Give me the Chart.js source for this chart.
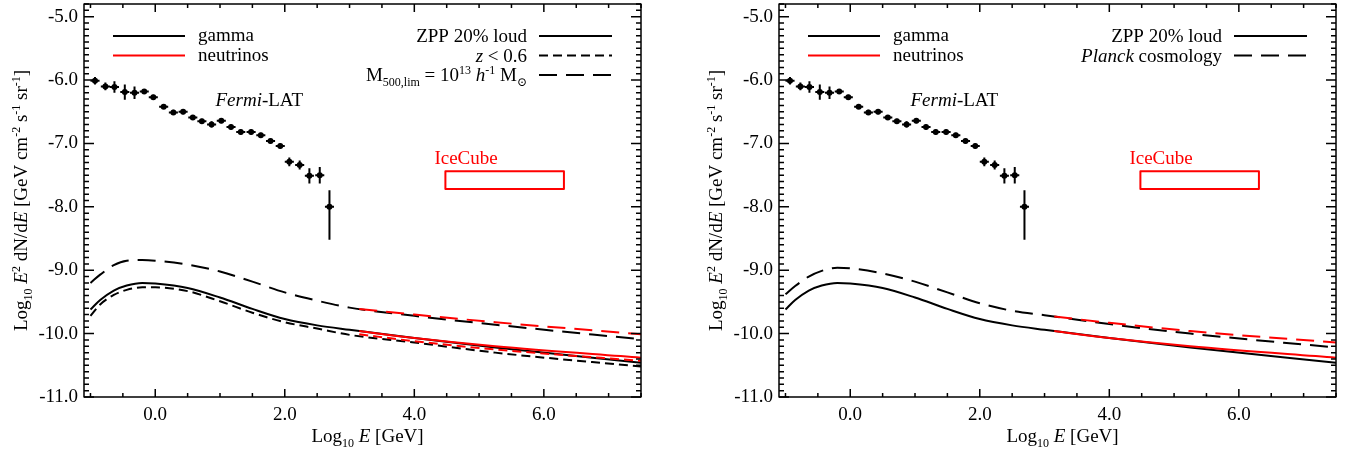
<!DOCTYPE html>
<html>
<head>
<meta charset="utf-8">
<script src="https://cdn.jsdelivr.net/npm/chart.js@4.4.0/dist/chart.umd.min.js"></script>
<style>
  body { margin: 0; background: #fff; }
  #wrap { position: relative; width: 1352px; height: 452px; }
  canvas { position: absolute; top: 0; }
</style>
</head>
<body>
<div id="wrap">
  <canvas id="left" width="676" height="452" style="left:0"></canvas>
  <canvas id="right" width="676" height="452" style="left:676px"></canvas>
</div>
<script>
// axis ticks
var xTicks = [0, 2, 4, 6];
var yTicks = [-11, -10, -9, -8, -7, -6, -5];

// Fermi-LAT points (log10 E, log10 E^2 dN/dE) with error bars
var fermiX = [-0.93, -0.77, -0.63, -0.47, -0.32, -0.17, -0.03, 0.13, 0.28, 0.43, 0.58, 0.72, 0.87,
              1.02, 1.17, 1.32, 1.48, 1.63, 1.78, 1.93, 2.07, 2.23, 2.38, 2.54, 2.69];
var fermiY = [-6.01, -6.10, -6.11, -6.19, -6.20, -6.18, -6.27, -6.42, -6.51, -6.50, -6.59, -6.65, -6.70,
              -6.64, -6.74, -6.82, -6.82, -6.87, -6.96, -7.04, -7.29, -7.34, -7.51, -7.50, -8.00];
var fermiErrUp = [0.06, 0.06, 0.09, 0.12, 0.10, 0.04, 0.04, 0.03, 0.04, 0.04, 0.04, 0.04, 0.05,
                  0.04, 0.04, 0.04, 0.04, 0.04, 0.04, 0.04, 0.07, 0.07, 0.12, 0.13, 0.26];
var fermiErrDn = [0.06, 0.06, 0.09, 0.12, 0.10, 0.04, 0.04, 0.03, 0.04, 0.04, 0.04, 0.04, 0.05,
                  0.04, 0.04, 0.04, 0.04, 0.04, 0.04, 0.04, 0.07, 0.07, 0.12, 0.13, 0.52];
var fermiErrX = 0.07;

// gamma-ray curves
var gammaX      = [-1.0, -0.85, -0.64, -0.44, -0.2, 0.0, 0.5, 1.0, 1.5, 2.0, 2.5, 3.0, 4.0, 5.25, 7.5];
var zppGamma    = [-9.62, -9.47, -9.32, -9.24, -9.20, -9.21, -9.28, -9.43, -9.61, -9.77, -9.87, -9.94, -10.07, -10.22, -10.46];
var z06Gamma    = [-9.72, -9.54, -9.39, -9.31, -9.27, -9.27, -9.33, -9.49, -9.67, -9.82, -9.92, -10.02, -10.14, -10.30, -10.52];
var m500Gamma   = [-9.20, -9.07, -8.92, -8.85, -8.84, -8.85, -8.91, -9.02, -9.18, -9.35, -9.48, -9.59, -9.72, -9.86, -10.09];
var planckGamma = [-9.38, -9.25, -9.10, -9.01, -8.96, -8.97, -9.05, -9.18, -9.35, -9.52, -9.64, -9.71, -9.85, -10.00, -10.22];

// neutrino curves
var nuX      = [3.15, 4.0, 5.25, 7.5];
var zppNu    = [-9.96, -10.07, -10.20, -10.38];
var z06Nu    = [-10.01, -10.12, -10.25, -10.43];
var m500Nu   = [-9.61, -9.70, -9.82, -10.01];
var planckNu = [-9.73, -9.83, -9.96, -10.14];

// IceCube box
var iceCubeX = [4.48, 6.31];
var iceCubeY = [-7.44, -7.72];

var FONT = '"Liberation Serif", "DejaVu Serif", serif';
var LONG = [18, 9];
var SHORT = [9, 5];

function pts(xs, ys) {
  return xs.map(function (x, i) { return { x: x, y: ys[i] }; });
}

function curve(xs, ys, color, dash) {
  return {
    data: pts(xs, ys),
    showLine: true,
    borderColor: color,
    borderWidth: 2,
    borderDash: dash,
    pointRadius: 0,
    cubicInterpolationMode: 'monotone',
    order: color === '#000' ? 2 : 1
  };
}

function fontFor(f) {
  var small = f.indexOf('p') >= 0 || f.indexOf('b') >= 0;
  return (f.indexOf('i') >= 0 ? 'italic ' : '') + (small ? 12 : 19) + 'px ' + FONT;
}

function drawRich(ctx, segs, x, y, align) {
  var w = 0;
  segs.forEach(function (s) { ctx.font = fontFor(s[1]); w += ctx.measureText(s[0]).width; });
  var cx = align === 'right' ? x - w : (align === 'center' ? x - w / 2 : x);
  ctx.textAlign = 'left';
  ctx.textBaseline = 'alphabetic';
  segs.forEach(function (s) {
    ctx.font = fontFor(s[1]);
    var dy = s[1].indexOf('p') >= 0 ? -7 : (s[1].indexOf('b') >= 0 ? 5 : 0);
    ctx.fillText(s[0], cx, y + dy);
    cx += ctx.measureText(s[0]).width;
  });
}

var yTitle = [['Log', ''], ['10', 'b'], [' ', ''], ['E', 'i'], ['2', 'p'], [' dN/d', ''], ['E', 'i'],
              [' [GeV cm', ''], ['-2', 'p'], [' s', ''], ['-1', 'p'], [' sr', ''], ['-1', 'p'], [']', '']];
var xTitle = [['Log', ''], ['10', 'b'], [' ', ''], ['E', 'i'], [' [GeV]', '']];

function makeDecor(models) {
  return {
    id: 'decor',
    afterDraw: function (chart) {
      var ctx = chart.ctx, a = chart.chartArea, xs = chart.scales.x, ys = chart.scales.y;
      ctx.save();

      // Fermi error bars
      ctx.strokeStyle = '#000';
      ctx.lineWidth = 2;
      ctx.beginPath();
      for (var i = 0; i < fermiX.length; i++) {
        var px = xs.getPixelForValue(fermiX[i]);
        var py = ys.getPixelForValue(fermiY[i]);
        ctx.moveTo(px, ys.getPixelForValue(fermiY[i] + fermiErrUp[i]));
        ctx.lineTo(px, ys.getPixelForValue(fermiY[i] - fermiErrDn[i]));
        ctx.moveTo(xs.getPixelForValue(fermiX[i] - fermiErrX), py);
        ctx.lineTo(xs.getPixelForValue(fermiX[i] + fermiErrX), py);
      }
      ctx.stroke();

      // IceCube box
      ctx.strokeStyle = '#f00';
      ctx.lineJoin = 'round';
      var bx0 = xs.getPixelForValue(iceCubeX[0]), bx1 = xs.getPixelForValue(iceCubeX[1]);
      var by0 = ys.getPixelForValue(iceCubeY[0]), by1 = ys.getPixelForValue(iceCubeY[1]);
      ctx.strokeRect(bx0, by0, bx1 - bx0, by1 - by0);
      ctx.fillStyle = '#f00';
      drawRich(ctx, [['IceCube', '']], xs.getPixelForValue(4.31), ys.getPixelForValue(-7.32), 'left');

      ctx.fillStyle = '#000';
      drawRich(ctx, [['Fermi', 'i'], ['-LAT', '']], xs.getPixelForValue(0.93), ys.getPixelForValue(-6.41), 'left');

      // frame and inward ticks on four sides
      ctx.strokeStyle = '#000';
      ctx.lineWidth = 1.5;
      ctx.strokeRect(a.left, a.top, a.right - a.left, a.bottom - a.top);
      ctx.beginPath();
      for (var k = -2; k <= 15; k++) {
        var v = k / 2;
        if (v < xs.min || v > xs.max) continue;
        var len = xTicks.indexOf(v) >= 0 ? 8 : 4;
        var x = xs.getPixelForValue(v);
        ctx.moveTo(x, a.bottom); ctx.lineTo(x, a.bottom - len);
        ctx.moveTo(x, a.top); ctx.lineTo(x, a.top + len);
      }
      for (var m = -110; m <= -48; m++) {
        var yv = m / 10;
        var ylen = m % 10 === 0 ? 10 : 5;
        var y = ys.getPixelForValue(yv);
        ctx.moveTo(a.left, y); ctx.lineTo(a.left + ylen, y);
        ctx.moveTo(a.right, y); ctx.lineTo(a.right - ylen, y);
      }
      ctx.stroke();

      // legend: particle colours
      ctx.lineWidth = 2;
      [['gamma', '#000'], ['neutrinos', '#f00']].forEach(function (r, j) {
        var ly = a.top + 32 + j * 19.5;
        ctx.strokeStyle = r[1];
        ctx.setLineDash([]);
        ctx.beginPath(); ctx.moveTo(a.left + 29, ly); ctx.lineTo(a.left + 101, ly); ctx.stroke();
        ctx.fillStyle = '#000';
        drawRich(ctx, [[r[0], '']], a.left + 114, ly + 5, 'left');
      });

      // legend: models / line styles
      models.forEach(function (r, j) {
        var ly = a.top + 32 + j * 19.5;
        ctx.strokeStyle = '#000';
        ctx.setLineDash(r.dash);
        ctx.beginPath(); ctx.moveTo(a.right - 102, ly); ctx.lineTo(a.right - 29, ly); ctx.stroke();
        ctx.setLineDash([]);
        drawRich(ctx, r.segs, a.right - 114, ly + 6, 'right');
      });

      // axis titles
      drawRich(ctx, xTitle, (a.left + a.right) / 2 + 5, 442, 'center');
      ctx.translate(a.left - 57, (a.top + a.bottom) / 2);
      ctx.rotate(-Math.PI / 2);
      drawRich(ctx, yTitle, 0, 0, 'center');

      ctx.restore();
    }
  };
}

function makeChart(id, yWidth, padRight, datasets, models) {
  return new Chart(document.getElementById(id), {
    type: 'scatter',
    data: { datasets: datasets },
    options: {
      responsive: false,
      animation: false,
      events: [],
      layout: { padding: { top: 1, right: padRight, bottom: 0, left: 0 } },
      plugins: { legend: { display: false }, tooltip: { enabled: false } },
      scales: {
        x: {
          type: 'linear', min: -1.1, max: 7.5,
          grid: { display: false, drawTicks: false }, border: { display: false },
          afterBuildTicks: function (s) { s.ticks = xTicks.map(function (v) { return { value: v }; }); },
          afterFit: function (s) { s.height = 55; s.paddingLeft = 0; s.paddingRight = 0; },
          ticks: { color: '#000', padding: 7, font: { family: FONT, size: 19 },
                   callback: function (v) { return v.toFixed(1); } }
        },
        y: {
          type: 'linear', min: -11.0, max: -4.8,
          grid: { display: false, drawTicks: false }, border: { display: false },
          afterBuildTicks: function (s) { s.ticks = yTicks.map(function (v) { return { value: v }; }); },
          afterFit: function (s) { s.width = yWidth; s.paddingTop = 0; s.paddingBottom = 0; },
          ticks: { color: '#000', padding: 6, font: { family: FONT, size: 19 },
                   callback: function (v) { return v.toFixed(1); } }
        }
      }
    },
    plugins: [makeDecor(models)]
  });
}

var fermiSet = {
  data: pts(fermiX, fermiY),
  pointRadius: 3,
  pointBackgroundColor: '#000',
  pointBorderWidth: 0,
  order: 0
};

var m500Label = [['M', ''], ['500,lim', 'b'], [' = 10', ''], ['13', 'p'], [' ', ''], ['h', 'i'],
                 ['-1', 'p'], [' M', ''], ['\u2299', 'b']];

makeChart('left', 84, 35, [
  fermiSet,
  curve(gammaX, zppGamma, '#000', []),
  curve(gammaX, z06Gamma, '#000', SHORT),
  curve(gammaX, m500Gamma, '#000', LONG),
  curve(nuX, zppNu, '#f00', []),
  curve(nuX, z06Nu, '#f00', SHORT),
  curve(nuX, m500Nu, '#f00', LONG)
], [
  { segs: [['ZPP 20% loud', '']], dash: [] },
  { segs: [['z', 'i'], [' < 0.6', '']], dash: SHORT },
  { segs: m500Label, dash: LONG }
]);

makeChart('right', 103, 16, [
  fermiSet,
  curve(gammaX, zppGamma, '#000', []),
  curve(gammaX, planckGamma, '#000', LONG),
  curve(nuX, zppNu, '#f00', []),
  curve(nuX, planckNu, '#f00', LONG)
], [
  { segs: [['ZPP 20% loud', '']], dash: [] },
  { segs: [['Planck', 'i'], [' cosmology', '']], dash: LONG }
]);
</script>
</body>
</html>
